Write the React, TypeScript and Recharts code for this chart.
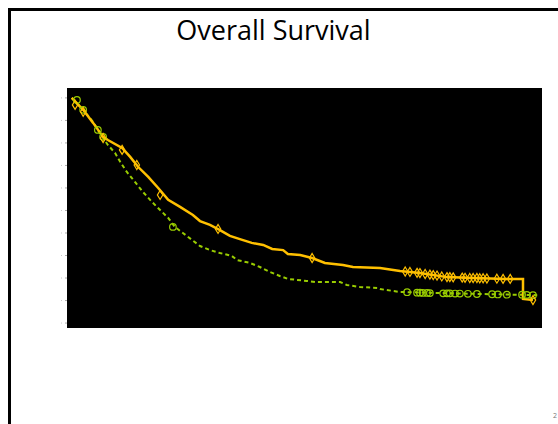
import React from "react";
import { ComposedChart, Line, Scatter, XAxis, YAxis } from "recharts";

// Kaplan-Meier style curves (time in months, survival fraction)
const orangeTime = [0, 2.4, 4.5, 6.6, 7.6, 10.6, 12.3, 14.0, 16.1, 18.2, 20.3, 22.8, 25.5, 27.0, 29.1, 31.2, 33.3, 35.4, 37.9, 40.3, 42.2, 44.5, 45.5, 48.1, 50.6, 53.3, 57.1, 59.2, 64.9, 69.1, 73.3, 79.0, 84.5, 91.6, 95.0, 95.0, 97.1];
const orangeSurv = [1.0, 0.947, 0.889, 0.827, 0.813, 0.778, 0.738, 0.693, 0.649, 0.6, 0.547, 0.516, 0.48, 0.453, 0.436, 0.413, 0.387, 0.373, 0.356, 0.347, 0.329, 0.324, 0.307, 0.302, 0.289, 0.267, 0.258, 0.249, 0.244, 0.231, 0.222, 0.204, 0.2, 0.196, 0.196, 0.107, 0.102];

const greenTime = [0, 2.4, 4.5, 5.5, 6.6, 7.6, 9.1, 10.2, 11.6, 13.3, 15.0, 16.9, 18.6, 20.3, 21.7, 23.4, 27.0, 29.1, 31.2, 33.7, 34.8, 37.5, 39.6, 41.7, 43.8, 45.5, 49.5, 51.2, 56.5, 57.9, 60.7, 64.3, 64.9, 69.1, 86.0, 98.0];
const greenSurv = [1.0, 0.947, 0.893, 0.858, 0.822, 0.791, 0.756, 0.716, 0.671, 0.627, 0.582, 0.538, 0.502, 0.467, 0.427, 0.4, 0.342, 0.324, 0.311, 0.298, 0.28, 0.267, 0.249, 0.227, 0.209, 0.196, 0.187, 0.182, 0.182, 0.169, 0.16, 0.156, 0.151, 0.138, 0.129, 0.124];

// Censoring marks
const orangeCensorTime = [0.7, 2.4, 6.6, 10.6, 13.7, 18.6, 30.8, 50.6, 70.2, 71.2, 72.7, 73.3, 74.4, 75.4, 76.1, 76.9, 77.9, 79.0, 79.6, 80.3, 82.2, 82.8, 83.8, 84.5, 85.3, 85.9, 86.6, 87.4, 89.5, 90.8, 92.3, 97.1];
const orangeCensorSurv = [0.969, 0.938, 0.822, 0.769, 0.702, 0.569, 0.418, 0.289, 0.229, 0.227, 0.223, 0.222, 0.218, 0.215, 0.213, 0.211, 0.207, 0.204, 0.204, 0.203, 0.202, 0.201, 0.2, 0.2, 0.2, 0.199, 0.199, 0.198, 0.197, 0.196, 0.196, 0.102];

const greenCensorTime = [1.1, 2.4, 5.5, 6.6, 21.3, 70.6, 72.7, 73.3, 73.9, 74.8, 75.4, 78.2, 79.0, 79.6, 80.7, 81.7, 83.4, 85.3, 88.5, 89.7, 91.6, 94.8, 95.8, 97.1];
const greenCensorSurv = [0.991, 0.947, 0.858, 0.827, 0.427, 0.137, 0.135, 0.135, 0.134, 0.134, 0.133, 0.132, 0.132, 0.132, 0.131, 0.131, 0.13, 0.129, 0.128, 0.127, 0.126, 0.126, 0.125, 0.124];

const yTicks = [0, 0.1, 0.2, 0.3, 0.4, 0.5, 0.6, 0.7, 0.8, 0.9, 1.0];

const title = "Overall Survival";
const slideNumber = "2";

const zip = (t: number[], s: number[]) => t.map((v, i) => ({ t: v, s: s[i] }));

const orangeData = zip(orangeTime, orangeSurv);
const greenData = zip(greenTime, greenSurv);
const orangeCensor = zip(orangeCensorTime, orangeCensorSurv);
const greenCensor = zip(greenCensorTime, greenCensorSurv);

const ORANGE = "#FFC000";
const GREEN = "#99CC00";

const Diamond = (props: any) => {
  const { cx, cy } = props;
  if (cx == null || cy == null) return null;
  return (
    <path
      d={`M${cx},${cy - 4.5} L${cx + 2.7},${cy} L${cx},${cy + 4.5} L${cx - 2.7},${cy} Z`}
      fill="none"
      stroke={ORANGE}
      strokeWidth={1.2}
    />
  );
};

const Ring = (props: any) => {
  const { cx, cy } = props;
  if (cx == null || cy == null) return null;
  return <circle cx={cx} cy={cy} r={3.3} fill="none" stroke={GREEN} strokeWidth={1.2} />;
};

const TinyTick = (props: any) => {
  const { x, y } = props;
  return <rect x={x - 2} y={y - 0.5} width={1} height={1} fill="#c8c8c8" />;
};

export default function App() {
  return (
    <div
      style={{
        position: "fixed",
        left: 0,
        top: 0,
        width: 558,
        height: 424,
        overflow: "hidden",
        background: "#fff",
      }}
    >
      <div
        style={{
          position: "absolute",
          left: 8,
          top: 8,
          width: 600,
          height: 500,
          borderTop: "3px solid #000",
          borderLeft: "3px solid #000",
        }}
      />
      <div
        style={{
          position: "absolute",
          left: 67,
          top: 88,
          width: 475,
          height: 240,
          background: "#000",
        }}
      />
      <div
        style={{
          position: "absolute",
          left: 0,
          top: 12,
          width: 547,
          textAlign: "center",
          fontFamily: "'Open Sans', sans-serif",
          fontSize: 27,
          color: "#000",
          lineHeight: "36px",
        }}
      >
        {title}
      </div>
      <div style={{ position: "absolute", left: 0, top: 0 }}>
        <ComposedChart
          width={558}
          height={424}
          margin={{ top: 88, right: 16, bottom: 96, left: 57 }}
        >
          <XAxis type="number" dataKey="t" domain={[-1, 99]} hide allowDataOverflow />
          <YAxis
            type="number"
            dataKey="s"
            domain={[-0.022, 1.044]}
            ticks={yTicks}
            interval={0}
            width={10}
            axisLine={false}
            tickSize={2}
            tickLine={{ stroke: "#aaa" }}
            tick={<TinyTick />}
            allowDataOverflow
          />
          <Line
            data={greenData}
            dataKey="s"
            type="linear"
            stroke={GREEN}
            strokeWidth={2}
            strokeDasharray="4 3"
            dot={false}
            isAnimationActive={false}
          />
          <Line
            data={orangeData}
            dataKey="s"
            type="linear"
            stroke={ORANGE}
            strokeWidth={2.5}
            dot={false}
            isAnimationActive={false}
          />
          <Scatter data={greenCensor} dataKey="s" shape={<Ring />} isAnimationActive={false} />
          <Scatter data={orangeCensor} dataKey="s" shape={<Diamond />} isAnimationActive={false} />
        </ComposedChart>
      </div>
      <div
        style={{
          position: "absolute",
          left: 553,
          top: 411,
          fontFamily: "'Open Sans', sans-serif",
          fontSize: 7,
          color: "#777",
        }}
      >
        {slideNumber}
      </div>
    </div>
  );
}
